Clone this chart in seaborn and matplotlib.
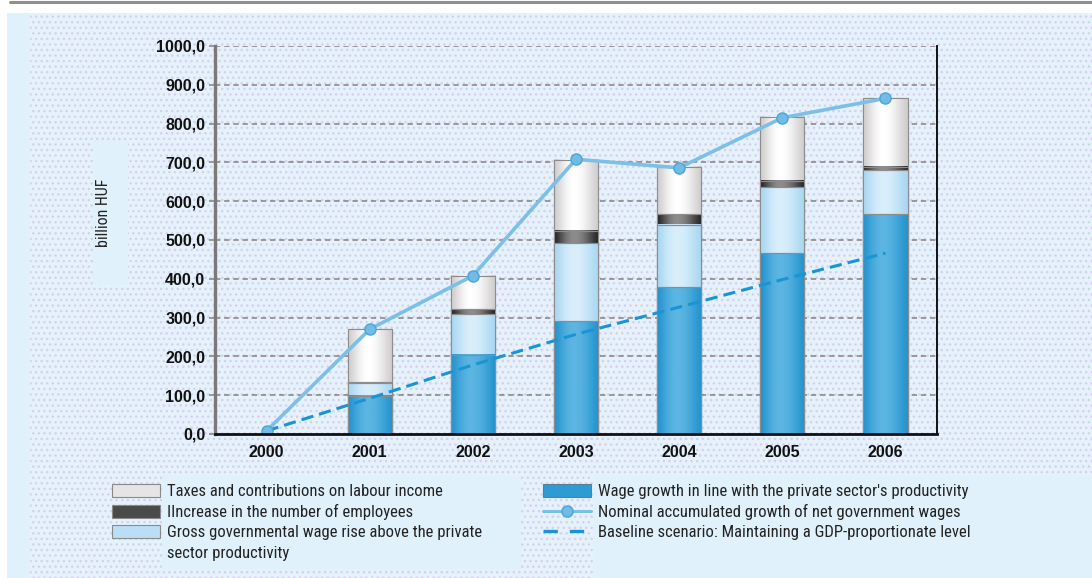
import numpy as np
import matplotlib
matplotlib.use("Agg")
import matplotlib.pyplot as plt
from matplotlib.patches import Rectangle, Patch
from matplotlib.lines import Line2D
from matplotlib.colors import LinearSegmentedColormap
import seaborn as sns

# ---- data (billion HUF) ----
years = ["2000", "2001", "2002", "2003", "2004", "2005", "2006"]
wage_private = [0, 98, 204, 291, 378, 466, 567]
gross_above = [0, 34, 105, 200, 161, 170, 113]
employees = [0, 2, 12, 32, 28, 16, 9]
taxes = [0, 136, 87, 183, 122, 166, 176]
nominal_net = [8, 270, 408, 708, 686, 815, 865]
baseline_gdp = [8, 92, 178, 257, 327, 398, 466]

labels_stack = [
    "Taxes and contributions on labour income",
    "IIncrease in the number of employees",
    "Gross governmental wage rise above the private",
    "Wage growth in line with the private sector's productivity",
]
label_nominal = "Nominal accumulated growth of net government wages"
label_baseline = "Baseline scenario: Maintaining a GDP-proportionate level"

# ---- styling ----
sns.set_theme(style="white")
NARROW = ["Liberation Sans Narrow", "Roboto Condensed", "Liberation Sans", "DejaVu Sans"]
plt.rcParams["font.family"] = ["Liberation Sans", "DejaVu Sans"]

BG_PLAIN = "#e1f1fb"
BG_DOT = "#e5f2fb"
DOT = "#d6d0ee"

# (edge colour, centre colour) for the shaded bar segments
shades = {
    "wage": ("#2394cf", "#5cb5e2"),
    "gross": ("#a8d7f2", "#d9eefb"),
    "emp": ("#262626", "#8c8c8c"),
    "tax": ("#cfcccc", "#ffffff"),
}
solid = {"wage": "#2d9bd4", "gross": "#b9def5", "emp": "#4a4a4a", "tax": "#e6e4e4"}

fig = plt.figure(figsize=(10.92, 5.78), dpi=100)
fig.patch.set_facecolor("white")
W, H = 1092.0, 578.0


def fx(px):
    return px / W


def fy(py):
    return 1 - py / H


# page background: plain strip + dotted field, with a rule on top
fig.add_artist(Rectangle((fx(7), 0), 1 - fx(7), fy(13), transform=fig.transFigure,
                         facecolor=BG_PLAIN, edgecolor="none", zorder=-10))
fig.add_artist(Rectangle((fx(30), 0), 1 - fx(30), fy(13), transform=fig.transFigure,
                         facecolor=BG_DOT, edgecolor=DOT, linewidth=0, hatch="...",
                         zorder=-9))
fig.add_artist(Line2D([fx(10), 1], [fy(2), fy(2)], transform=fig.transFigure,
                      color="#8f8f8f", lw=2.2, zorder=-8))
# plain panels behind the axis title and the legends
for (x0, y0, x1, y1) in [(93, 140, 128, 285), (162, 475, 521, 570), (593, 475, 1092, 578)]:
    fig.add_artist(Rectangle((fx(x0), fy(y1)), fx(x1) - fx(x0), fy(y0) - fy(y1),
                             transform=fig.transFigure, facecolor=BG_PLAIN,
                             edgecolor="none", zorder=-7))

ax = fig.add_axes([fx(215), fy(434), fx(937) - fx(215), fy(46) - fy(434)])
ax.set_facecolor("none")

# ---- stacked bars (drawn as overlapping cumulative totals) ----
cum_wage = np.array(wage_private, dtype=float)
cum_gross = cum_wage + np.array(gross_above)
cum_emp = cum_gross + np.array(employees)
cum_tax = cum_emp + np.array(taxes)

layers = [("tax", cum_tax, cum_emp), ("emp", cum_emp, cum_gross),
          ("gross", cum_gross, cum_wage), ("wage", cum_wage, np.zeros(len(years)))]
BAR_W = 0.43
for key, top, _ in layers:
    sns.barplot(x=years, y=top, color=solid[key], saturation=1, width=BAR_W,
                edgecolor="#8a8a8a", linewidth=0.8, ax=ax, zorder=2)

# horizontal shading inside each segment, plus a crisp outline
t = np.linspace(0, 1, 80)
peak = 0.45
prof = np.where(t < peak, t / peak, (1 - t) / (1 - peak))
prof = np.sin(0.5 * np.pi * prof) ** 1.3          # 0 at the sides, 1 near centre
for (key, top, bottom), cont in zip(layers, ax.containers):
    c_edge, c_mid = shades[key]
    cmap = LinearSegmentedColormap.from_list(key, [c_edge, c_mid])
    for bar, y1, y0 in zip(cont.patches, top, bottom):
        if y1 - y0 <= 0:
            continue
        x0 = bar.get_x()
        x1 = x0 + bar.get_width()
        ax.imshow(prof[None, :], cmap=cmap, vmin=0, vmax=1, extent=(x0, x1, y0, y1),
                  aspect="auto", interpolation="bilinear", zorder=2.5)
        ax.add_patch(Rectangle((x0, y0), x1 - x0, y1 - y0, facecolor="none",
                               edgecolor="#8c8c8c", linewidth=0.8, zorder=2.6))

# ---- lines ----
pos = np.arange(len(years))
sns.lineplot(x=pos, y=baseline_gdp, ax=ax, color="#1a94d2", lw=2.2,
             linestyle=(0, (4, 2)), zorder=4)
sns.lineplot(x=pos, y=nominal_net, ax=ax, color="#7cc0e7", lw=2.6, marker="o",
             markersize=8, markerfacecolor="#72bbe5", markeredgecolor="#4aa5d8",
             markeredgewidth=1.0, zorder=5)

# ---- axes ----
ax.set_xlim(-0.5, len(years) - 0.5)
ax.set_ylim(0, 1000)
ax.set_xticks(pos)
ax.set_xticklabels(years)
ax.set_xticks(pos[:-1] + 0.5, minor=True)
yt = np.arange(0, 1001, 100)
ax.set_yticks(yt)
ax.set_yticklabels([f"{v:.1f}".replace(".", ",") for v in yt])
ax.set_xlabel("")
ax.set_ylabel("")

for lab in ax.get_xticklabels() + ax.get_yticklabels():
    lab.set_fontweight("bold")
    lab.set_fontsize(11.5)
    lab.set_color("#111111")

ax.tick_params(axis="x", which="major", length=0, pad=8)
ax.tick_params(axis="x", which="minor", length=8, width=1.4, color="#111111",
               direction="out")
ax.tick_params(axis="y", which="major", length=4, width=1.2, color="#8a8a8a",
               direction="out", pad=3, left=True)

ax.yaxis.grid(True, linestyle=(0, (3.5, 2.5)), color="#8b7f7f", lw=1.1)
ax.set_axisbelow(True)
ax.spines["top"].set_visible(False)
ax.spines["left"].set_color("#7d7878")
ax.spines["left"].set_linewidth(2.4)
ax.spines["bottom"].set_color("#111111")
ax.spines["bottom"].set_linewidth(2.0)
ax.spines["right"].set_color("#111111")
ax.spines["right"].set_linewidth(1.4)
ax.spines["bottom"].set_zorder(6)

fig.text(fx(104), fy(213), "billion HUF", rotation=90, ha="center", va="center",
         fontsize=11.5, family=NARROW, color="#222222")

# ---- legends ----
h_tax = Patch(facecolor=solid["tax"], edgecolor="#8a8a8a", linewidth=0.8)
h_emp = Patch(facecolor=solid["emp"], edgecolor="#8a8a8a", linewidth=0.8)
h_gross = Patch(facecolor=solid["gross"], edgecolor="#8a8a8a", linewidth=0.8)
h_blank = Patch(facecolor="none", edgecolor="none")
h_wage = Patch(facecolor=solid["wage"], edgecolor="#5a7f95", linewidth=0.8)
h_nom = Line2D([], [], color="#7cc0e7", lw=2.2, marker="o", markersize=8,
               markerfacecolor="#72bbe5", markeredgecolor="#4aa5d8")
h_base = Line2D([], [], color="#1a94d2", lw=2.4, linestyle=(0, (4.3, 3.6)))

leg_kw = dict(frameon=False, borderpad=0, borderaxespad=0, handlelength=2.85,
              handleheight=0.8, handletextpad=0.45, labelspacing=0.3,
              prop={"family": NARROW, "size": 12}, labelcolor="#222222")
leg1 = fig.legend([h_tax, h_emp, h_gross, h_blank],
                  [labels_stack[0], labels_stack[1], labels_stack[2], "sector productivity"],
                  loc="upper left", bbox_to_anchor=(fx(112), fy(484)), **leg_kw)
leg2 = fig.legend([h_wage, h_nom, h_base],
                  [labels_stack[3], label_nominal, label_baseline],
                  loc="upper left", bbox_to_anchor=(fx(543), fy(484)), numpoints=1,
                  **leg_kw)

fig.savefig("out.png", dpi=100, facecolor=fig.get_facecolor())
